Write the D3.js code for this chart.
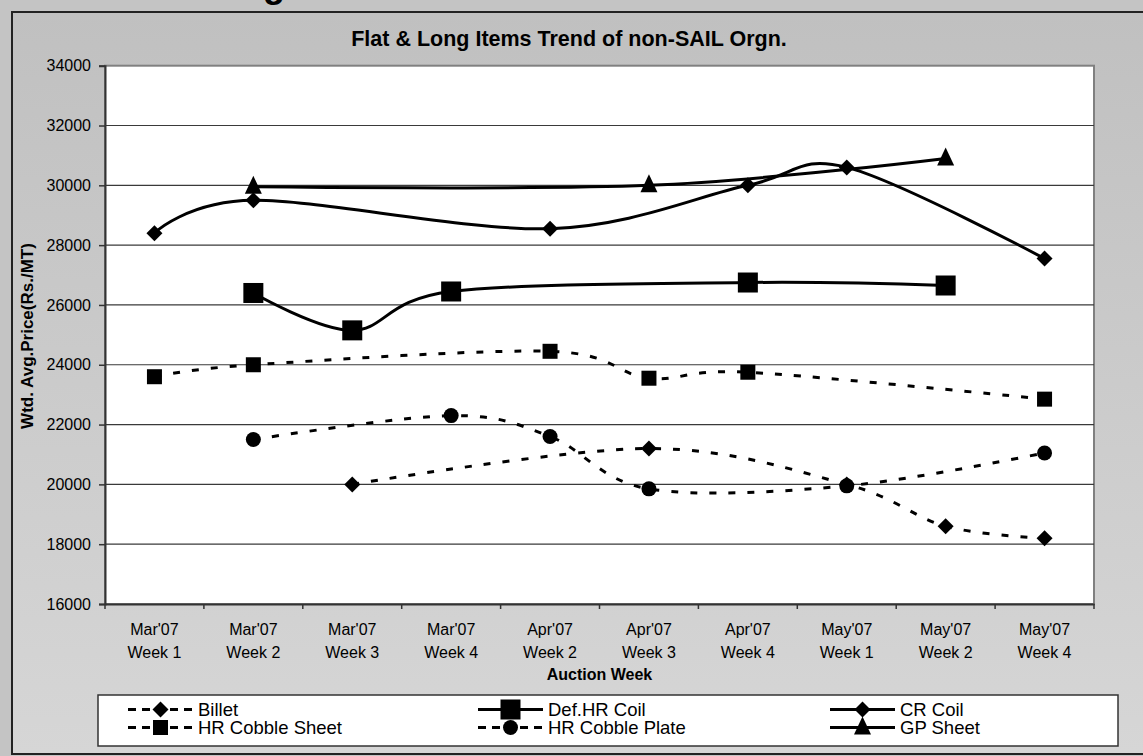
<!DOCTYPE html>
<html><head><meta charset="utf-8">
<script src="https://cdn.jsdelivr.net/npm/d3@7"></script>
<style>html,body{margin:0;padding:0;background:#c4c4c4;}svg{display:block;font-family:Arial,"Liberation Sans",sans-serif;}</style>
</head><body><svg id="c" width="1143" height="756"></svg>
<script>
const months = ["Mar'07","Mar'07","Mar'07","Mar'07","Apr'07","Apr'07","Apr'07","May'07","May'07","May'07"];
const weekLabels = ["Week 1","Week 2","Week 3","Week 4","Week 2","Week 3","Week 4","Week 1","Week 2","Week 4"];
const categories = months.map((m,i)=>m+" "+weekLabels[i]);
const yTicks = [16000,18000,20000,22000,24000,26000,28000,30000,32000,34000];

const billet        = [null,null,20000,null,null,21200,null,20000,18600,18200];
const defHRCoil     = [null,26400,25150,26450,null,null,26750,null,26650,null];
const crCoil        = [28400,29500,null,null,28550,null,30000,30600,null,27550];
const hrCobbleSheet = [23600,24000,null,null,24450,23550,23750,null,null,22850];
const hrCobblePlate = [null,21500,null,22300,21600,19850,null,19950,null,21050];
const gpSheet       = [null,29950,null,null,null,30000,null,null,30900,null];

const seriesNames = ["Billet","Def.HR Coil","CR Coil","HR Cobble Sheet","HR Cobble Plate","GP Sheet"];
const seriesValues = [billet,defHRCoil,crCoil,hrCobbleSheet,hrCobblePlate,gpSheet];
const seriesDashed = [true,false,false,true,true,false];
const seriesMarker = ["diamond","bigsquare","diamond","square","circle","triangle"];

const svg = d3.select("#c");
const defs = svg.append("defs");
const grad = defs.append("linearGradient").attr("id","bg").attr("x1",0).attr("y1",0).attr("x2",0).attr("y2",1);
grad.append("stop").attr("offset","0%").attr("stop-color","#c0c0c0");
grad.append("stop").attr("offset","100%").attr("stop-color","#d6d6d6");

svg.append("rect").attr("x",0).attr("y",0).attr("width",1143).attr("height",756).attr("fill","#c4c4c4");
svg.append("rect").attr("x",12).attr("y",12).attr("width",1150).attr("height",742)
  .attr("fill","url(#bg)").attr("stroke","#222").attr("stroke-width",2);

// cut-off heading glyph at very top
svg.append("text").attr("x",263).attr("y",-3).attr("font-size",36).attr("font-weight","bold").text("g");

svg.append("text").attr("x",569).attr("y",46).attr("text-anchor","middle")
  .attr("font-size",21.5).attr("font-weight","bold").text("Flat & Long Items Trend of non-SAIL Orgn.");

const L=105, R=1094, T=65.7, B=604;
const x = d3.scaleBand().domain(categories).range([L,R]).padding(0);
const y = d3.scaleLinear().domain([16000,34000]).range([B,T]);

svg.append("rect").attr("x",L).attr("y",T).attr("width",R-L).attr("height",B-T)
  .attr("fill","#fff").attr("stroke","#808080").attr("stroke-width",2);

svg.append("g").selectAll("line").data(yTicks.slice(1,-1)).join("line")
  .attr("x1",L).attr("x2",R).attr("y1",d=>y(d)).attr("y2",d=>y(d))
  .attr("stroke","#3a3a3a").attr("stroke-width",1.2);

// y axis
const yAxis = svg.append("g").attr("transform",`translate(${L},0)`)
  .call(d3.axisLeft(y).tickValues(yTicks).tickSize(6).tickPadding(8).tickFormat(d3.format("d")));
yAxis.select(".domain").attr("stroke","#333").attr("stroke-width",2);
yAxis.selectAll(".tick line").attr("stroke","#333").attr("stroke-width",1.5);
yAxis.selectAll(".tick text").attr("font-size",16).attr("fill","#000").attr("font-family","Arial,'Liberation Sans',sans-serif");

// x axis
const xAxis = svg.append("g").attr("transform",`translate(0,${B})`)
  .call(d3.axisBottom(x).tickSize(0).tickFormat(""));
xAxis.select(".domain").attr("stroke","#333").attr("stroke-width",2);
svg.append("g").selectAll("line").data(d3.range(categories.length+1)).join("line")
  .attr("x1",i=>L+i*x.step()).attr("x2",i=>L+i*x.step()).attr("y1",B).attr("y2",B+5)
  .attr("stroke","#333").attr("stroke-width",1.5);
const xl = svg.append("g").selectAll("text").data(categories).join("text")
  .attr("text-anchor","middle").attr("font-size",16);
xl.append("tspan").attr("x",d=>x(d)+x.bandwidth()/2).attr("y",635).text((d,i)=>months[i]);
xl.append("tspan").attr("x",d=>x(d)+x.bandwidth()/2).attr("y",658).text((d,i)=>weekLabels[i]);

svg.append("text").attr("x",(L+R)/2).attr("y",680).attr("text-anchor","middle")
  .attr("font-size",16).attr("font-weight","bold").text("Auction Week");
svg.append("text").attr("transform","translate(33,336) rotate(-90)").attr("text-anchor","middle")
  .attr("font-size",17).attr("font-weight","bold").text("Wtd. Avg.Price(Rs./MT)");

function marker(g, type, cx, cy){
  if(type==="diamond") g.append("path").attr("d",`M${cx},${cy-8}L${cx+8},${cy}L${cx},${cy+8}L${cx-8},${cy}Z`).attr("fill","#000");
  else if(type==="bigsquare") g.append("rect").attr("x",cx-10).attr("y",cy-10).attr("width",20).attr("height",20).attr("fill","#000");
  else if(type==="square") g.append("rect").attr("x",cx-7.5).attr("y",cy-7.5).attr("width",15).attr("height",15).attr("fill","#000");
  else if(type==="circle") g.append("circle").attr("cx",cx).attr("cy",cy).attr("r",7.5).attr("fill","#000");
  else if(type==="triangle") g.append("path").attr("d",`M${cx},${cy-11}L${cx+8.5},${cy+7}L${cx-8.5},${cy+7}Z`).attr("fill","#000");
}

const line = d3.line().x(d=>x(d.c)+x.bandwidth()/2).y(d=>y(d.v)).curve(d3.curveCatmullRom.alpha(0));
const plot = svg.append("g");
seriesValues.forEach((vals,si)=>{
  const pts = vals.map((v,i)=>({c:categories[i],v})).filter(d=>d.v!==null);
  plot.append("path").datum(pts).attr("d",line).attr("fill","none").attr("stroke","#000")
    .attr("stroke-width",3).attr("stroke-dasharray",seriesDashed[si]?"7,12":null);
});
seriesValues.forEach((vals,si)=>{
  const g = plot.append("g");
  vals.forEach((v,i)=>{ if(v!==null) marker(g, seriesMarker[si], x(categories[i])+x.bandwidth()/2, y(v)); });
});

// legend
const lg = svg.append("g");
lg.append("rect").attr("x",98).attr("y",695).attr("width",1020).attr("height",51)
  .attr("fill","#fff").attr("stroke","#333").attr("stroke-width",1.5);
const colX = [128,478,830], rowY = [709.5,727.5];
seriesNames.forEach((name,i)=>{
  const cx = colX[i%3], cy = rowY[Math.floor(i/3)];
  lg.append("line").attr("x1",cx).attr("x2",cx+65).attr("y1",cy).attr("y2",cy)
    .attr("stroke","#000").attr("stroke-width",3).attr("stroke-dasharray",seriesDashed[i]?"8,6":null);
  marker(lg, seriesMarker[i], cx+32.5, cy);
  lg.append("text").attr("x",cx+70).attr("y",cy+6).attr("font-size",18.5).text(name);
});
</script></body></html>
